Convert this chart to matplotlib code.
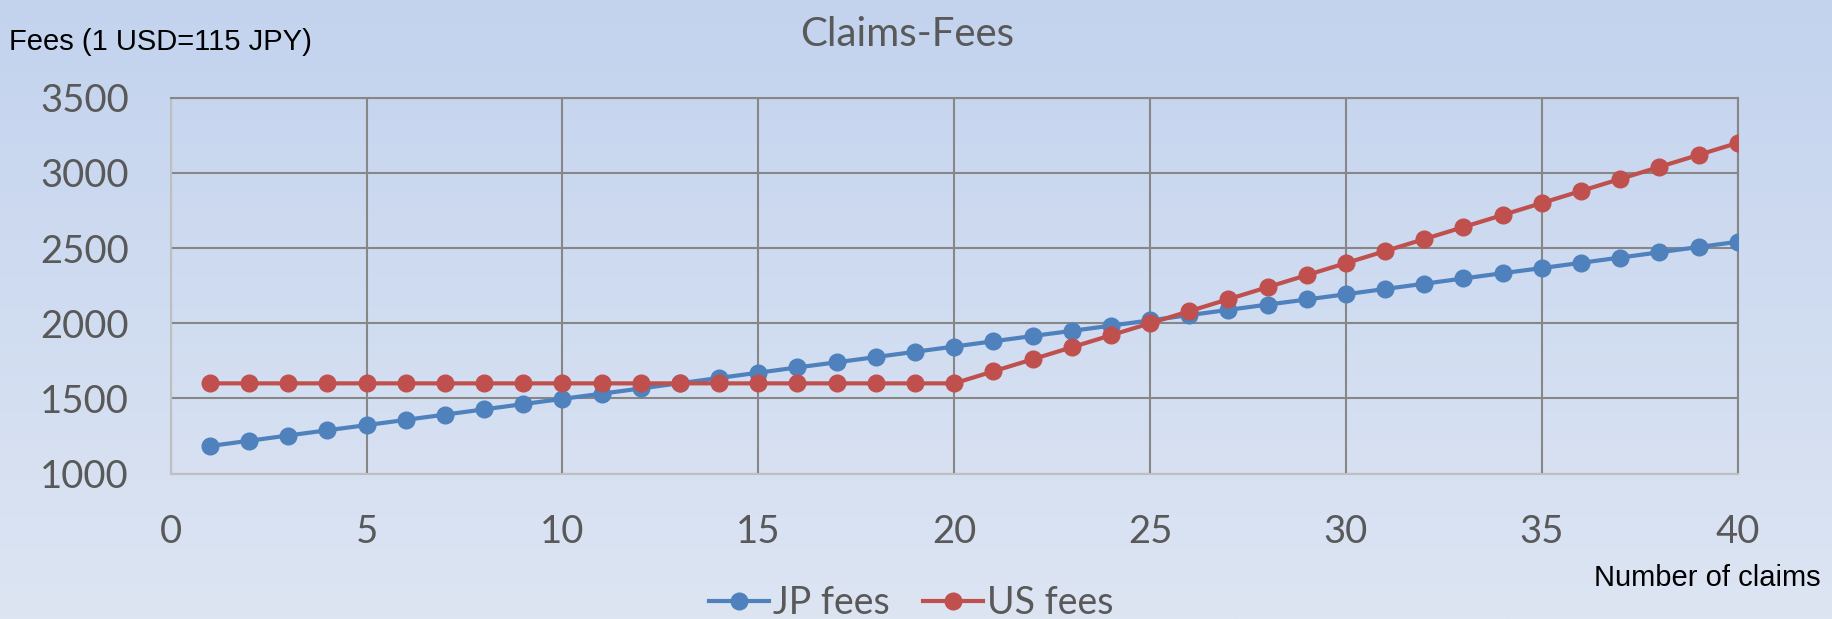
import numpy as np
import matplotlib
matplotlib.use('Agg')
from matplotlib import pyplot as plt

claims = list(range(1, 41))
jp_fees = [1183, 1218, 1253, 1288, 1322, 1357, 1392, 1427, 1462, 1497,
           1531, 1566, 1601, 1636, 1671, 1706, 1740, 1775, 1810, 1845,
           1880, 1915, 1949, 1984, 2019, 2054, 2089, 2124, 2158, 2193,
           2228, 2263, 2298, 2333, 2367, 2402, 2437, 2472, 2507, 2542]
us_fees = [1600] * 20 + [1680, 1760, 1840, 1920, 2000, 2080, 2160, 2240, 2320, 2400,
                         2480, 2560, 2640, 2720, 2800, 2880, 2960, 3040, 3120, 3200]
x_ticks = [0, 5, 10, 15, 20, 25, 30, 35, 40]
y_ticks = [1000, 1500, 2000, 2500, 3000, 3500]

# Calibri-like font for the chart text, Arial-like for the axis captions
calibri = ['Lato', 'DejaVu Sans']
arial = ['Liberation Sans', 'DejaVu Sans']
gray_text = '#595959'

fig = plt.figure(figsize=(18.33, 6.19), dpi=100)

# background gradient
bg = fig.add_axes([0, 0, 1, 1], zorder=-10)
top = np.array([195, 211, 238]) / 255
bottom = np.array([221, 229, 243]) / 255
t = np.linspace(0, 1, 256)[:, None]
grad = top * (1 - t) + bottom * t
bg.imshow(grad[:, None, :].repeat(2, axis=1), aspect='auto', extent=[0, 1, 0, 1])
bg.axis('off')

ax = fig.add_axes([0.0931, 0.235, 0.8549, 0.607])
ax.set_facecolor('none')

ax.plot(claims, jp_fees, color='#4f81bd', lw=3, marker='o', ms=12, label='JP fees', zorder=3)
ax.plot(claims, us_fees, color='#c0504d', lw=3, marker='o', ms=12, label='US fees', zorder=4)

ax.set_xlim(0, 40)
ax.set_ylim(1000, 3500)
ax.set_xticks(x_ticks)
ax.set_yticks(y_ticks)
ax.grid(True, color='#878787', lw=1.5)
ax.tick_params(length=0, labelsize=27.5, labelcolor=gray_text)
ax.tick_params(axis='y', pad=30)
ax.tick_params(axis='x', pad=29)
for lbl in ax.get_xticklabels() + ax.get_yticklabels():
    lbl.set_family(calibri)

for side in ['left', 'bottom']:
    ax.spines[side].set_color('#bfbfbf')
    ax.spines[side].set_linewidth(1.5)
for side in ['top', 'right']:
    ax.spines[side].set_color('#878787')
    ax.spines[side].set_linewidth(1.5)

fig.text(0.495, 0.945, 'Claims-Fees', ha='center', va='center', fontsize=29,
         color=gray_text, family=calibri)
fig.text(0.005, 0.92, 'Fees (1 USD=115 JPY)', ha='left', va='baseline', fontsize=21,
         color='black', family=arial)
fig.text(0.993, 0.053, 'Number of claims', ha='right', va='baseline', fontsize=21,
         color='black', family=arial)

leg = fig.legend(loc='center', bbox_to_anchor=(0.497, 0.026), ncol=2, frameon=False,
                 prop={'family': calibri, 'size': 27}, handlelength=1.6,
                 handletextpad=0.1, columnspacing=0.9, borderaxespad=0)
for txt in leg.get_texts():
    txt.set_color(gray_text)

fig.savefig('out.png', dpi=100)
